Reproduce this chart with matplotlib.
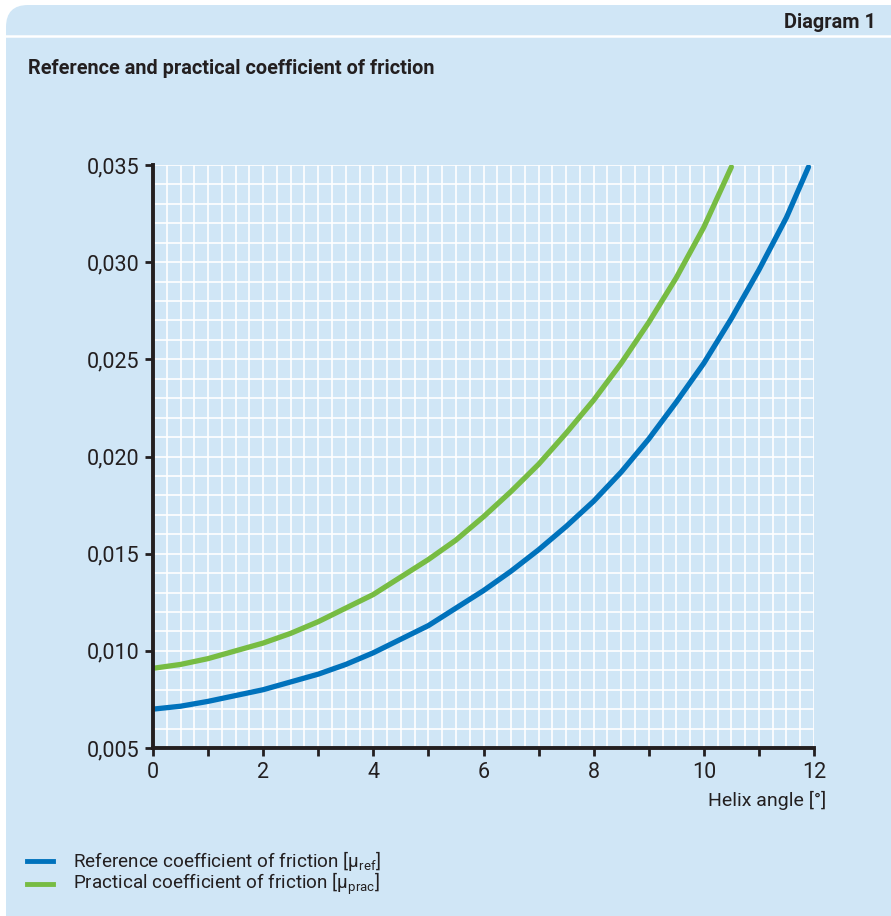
import matplotlib
matplotlib.use("Agg")
import matplotlib.pyplot as plt
from matplotlib.patches import FancyBboxPatch
from matplotlib.ticker import MultipleLocator, FuncFormatter

# values
helixRef = [0, 0.5, 1, 1.5, 2, 2.5, 3, 3.5, 4, 4.5, 5, 5.5, 6, 6.5, 7, 7.5,
            8, 8.5, 9, 9.5, 10, 10.5, 11, 11.5, 11.9]
muRef = [0.0070, 0.00715, 0.0074, 0.0077, 0.0080, 0.0084, 0.0088, 0.0093,
         0.0099, 0.0106, 0.0113, 0.0122, 0.0131, 0.0141, 0.0152, 0.0164,
         0.0177, 0.0192, 0.0209, 0.0228, 0.0248, 0.0271, 0.0296, 0.0323, 0.0349]
helixPrac = [0, 0.5, 1, 1.5, 2, 2.5, 3, 3.5, 4, 4.5, 5, 5.5, 6, 6.5, 7, 7.5,
             8, 8.5, 9, 9.5, 10, 10.5]
muPrac = [0.0091, 0.0093, 0.0096, 0.0100, 0.0104, 0.0109, 0.0115, 0.0122,
          0.0129, 0.0138, 0.0147, 0.0157, 0.0169, 0.0182, 0.0196, 0.0212,
          0.0229, 0.0248, 0.0269, 0.0292, 0.0318, 0.0349]

seriesLabels = [r'Reference coefficient of friction [$\mathregular{\mu_{ref}}$]',
                r'Practical coefficient of friction [$\mathregular{\mu_{prac}}$]']
xTicks = [0, 2, 4, 6, 8, 10, 12]
yTicks = [0.005, 0.010, 0.015, 0.020, 0.025, 0.030, 0.035]

# colours
panelColor = '#d0e6f6'
blue = '#0072bc'
green = '#77bc43'
ink = '#231f20'

plt.rcParams['font.family'] = ['Roboto', 'DejaVu Sans']

fig = plt.figure(figsize=(8.91, 9.16), dpi=100)
fig.patch.set_facecolor('white')

# light blue panel with rounded corners (pixel coordinates, origin bottom left)
panel = FancyBboxPatch((6, -30), 906, 941, boxstyle="round,pad=0,rounding_size=22",
                       transform=None, facecolor=panelColor, edgecolor='none', zorder=-5)
fig.patches.append(panel)
# white separator below the header strip
fig.lines.append(plt.Line2D([6, 891], [880, 880], transform=None, color='white', lw=1.8, zorder=-4))

fig.text(876 / 891, 1 - 22 / 916, 'Diagram 1', ha='right', va='center',
         fontsize=14.3, fontweight='bold', color=ink)
fig.text(28 / 891, 1 - 68 / 916, 'Reference and practical coefficient of friction',
         ha='left', va='center', fontsize=14.3, fontweight='bold', color=ink)

ax = fig.add_axes([153 / 891, 1 - 748 / 916, 661 / 891, 583 / 916])
ax.set_facecolor(panelColor)
ax.set_xlim(0, 12)
ax.set_ylim(0.005, 0.035)

# white grid, every 0.25 degree and every 0.001
for gx in [v * 0.25 for v in range(1, 49)]:
    ax.axvline(gx, color='white', lw=1.2, zorder=1)
for gy in [0.005 + v * 0.001 for v in range(1, 31)]:
    ax.axhline(gy, color='white', lw=1.2, zorder=1)

ax.plot(helixRef, muRef, color=blue, lw=3.8, solid_capstyle='round',
        solid_joinstyle='round', zorder=3)
ax.plot(helixPrac, muPrac, color=green, lw=3.8, solid_capstyle='round',
        solid_joinstyle='round', zorder=3)

ax.set_xticks(xTicks)
ax.xaxis.set_minor_locator(MultipleLocator(1))
ax.set_yticks(yTicks)
ax.yaxis.set_major_formatter(FuncFormatter(lambda v, p: ('%.3f' % v).replace('.', ',')))
ax.tick_params(axis='both', which='both', direction='out', color=ink, width=2,
               labelsize=15.5, labelcolor=ink)
ax.tick_params(axis='both', which='major', length=6, pad=4)
ax.tick_params(axis='x', which='minor', length=6)

for side in ['top', 'right']:
    ax.spines[side].set_visible(False)
for side in ['left', 'bottom']:
    ax.spines[side].set_color(ink)
    ax.spines[side].set_linewidth(2.8)
    ax.spines[side].set_zorder(4)

fig.text(826 / 891, 1 - 800 / 916, 'Helix angle [°]', ha='right', va='center',
         fontsize=14, color=ink)

# legend drawn by hand at the bottom left
for i, (col, lab) in enumerate(zip([blue, green], seriesLabels)):
    yy = 916 - (861 + i * 23)
    fig.lines.append(plt.Line2D([27, 53], [yy, yy], transform=None, color=col, lw=3.5))
    fig.text(73 / 891, yy / 916, lab, ha='left', va='center', fontsize=13.6, color=ink)

plt.savefig('out.png', dpi=100, facecolor='white')
